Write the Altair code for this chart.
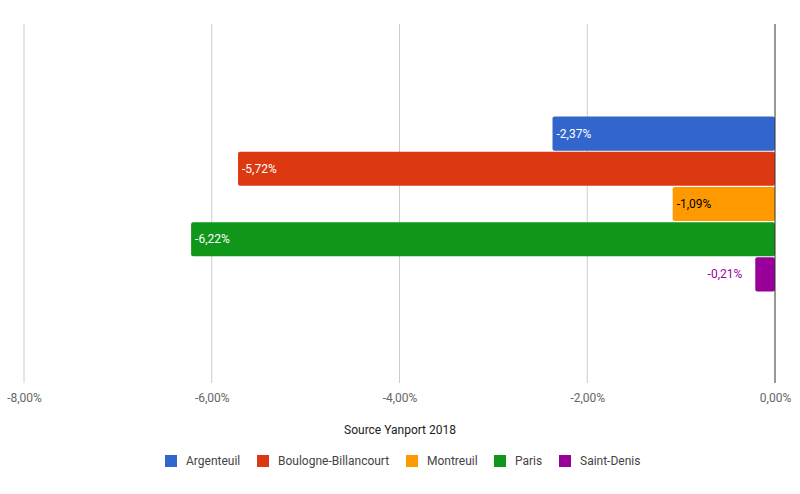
import altair as alt
import pandas as pd

villes = ["Argenteuil", "Boulogne-Billancourt", "Montreuil", "Paris", "Saint-Denis"]
valeurs = [-2.37, -5.72, -1.09, -6.22, -0.21]
couleurs = ["#3366cc", "#dc3912", "#ff9900", "#109618", "#990099"]
ticks = [-8, -6, -4, -2, 0]
titre_axe = "Source Yanport 2018"

df = pd.DataFrame({"ville": villes, "v": valeurs})
grid_df = pd.DataFrame({"t": ticks[:-1]})
FONT = "Roboto"

label_expr = "(datum.value < 0 ? '-' : '') + replace(format(abs(datum.value), '.2f'), '.', ',') + '%'"
text_calc = "(datum.v < 0 ? '-' : '') + replace(format(abs(datum.v), '.2f'), '.', ',') + '%'"

xscale = alt.Scale(domain=[-8, 0], nice=False, zero=False)
yscale = alt.Scale(domain=villes, paddingInner=0.03, paddingOuter=0, range=[92.5, 267.5])
cscale = alt.Scale(domain=villes, range=couleurs)

grid = alt.Chart(grid_df).mark_rule(color="#cccccc", strokeWidth=1).encode(
    x=alt.X("t:Q", scale=xscale),
    y=alt.value(0),
    y2=alt.value(359),
)

base = alt.Chart(df).transform_calculate(lab=text_calc)

bars = base.mark_bar(cornerRadius=2).encode(
    x=alt.X("v:Q", scale=xscale, title=titre_axe,
            axis=alt.Axis(values=ticks, labelExpr=label_expr, grid=False, labelFlush=False,
                          domain=False, ticks=False, labelPadding=9, labelFont=FONT,
                          labelFontSize=12, labelColor="#666666", titleFont=FONT,
                          titleFontSize=12, titleFontWeight="normal", titleColor="#222222",
                          titlePadding=21)),
    x2=alt.datum(0),
    y=alt.Y("ville:N", scale=yscale, axis=None, sort=villes),
    color=alt.Color("ville:N", scale=cscale, sort=villes,
                    legend=alt.Legend(title=None, orient="none", direction="horizontal",
                                      legendX=141, legendY=431, symbolType="square",
                                      symbolSize=144, symbolStrokeWidth=0,
                                      labelFont=FONT, labelFontSize=12, labelColor="#444444",
                                      columnPadding=16, labelOffset=9)),
)

inside = base.transform_filter("datum.ville != 'Saint-Denis'").mark_text(
    align="left", baseline="middle", dx=4, font=FONT, fontSize=12
).encode(
    x=alt.X("v:Q", scale=xscale),
    y=alt.Y("ville:N", scale=yscale, sort=villes),
    text="lab:N",
    color=alt.condition("datum.ville == 'Montreuil'", alt.value("#000000"), alt.value("#ffffff")),
)

outside = base.transform_filter("datum.ville == 'Saint-Denis'").mark_text(
    align="right", baseline="middle", dx=-13, font=FONT, fontSize=12, color="#990099"
).encode(
    x=alt.X("v:Q", scale=xscale),
    y=alt.Y("ville:N", scale=yscale, sort=villes),
    text="lab:N",
)

zero = alt.Chart(pd.DataFrame({"z": [0]})).mark_rule(color="#333333", strokeWidth=1).encode(
    x=alt.X("z:Q", scale=xscale),
    y=alt.value(0),
    y2=alt.value(359),
)

chart = alt.layer(grid, bars, inside, outside, zero).properties(
    width=751, height=359,
    background="white",
    autosize=alt.AutoSizeParams(type="none"),
    padding={"left": 24, "top": 24, "right": 25, "bottom": 111},
).configure_view(stroke=None)

chart.save("out.html", embed_options={"renderer": "svg", "actions": False})
